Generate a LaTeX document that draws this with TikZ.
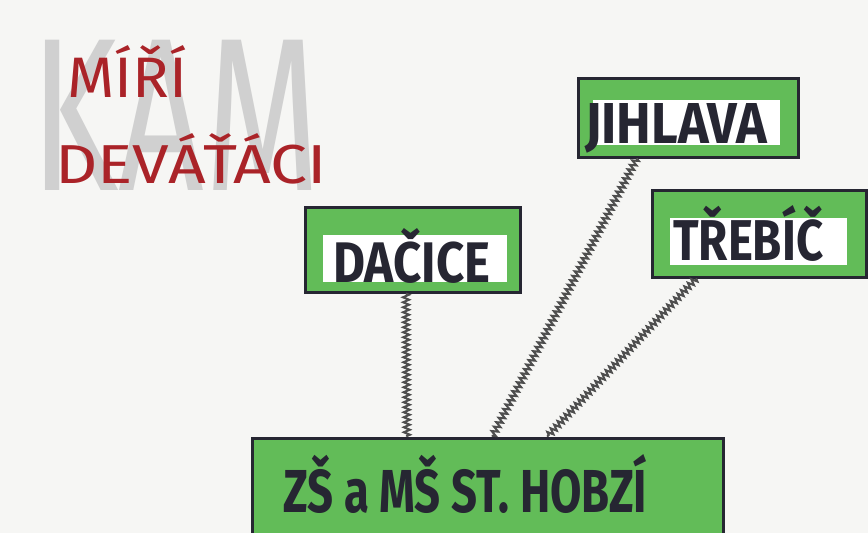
\documentclass[tikz,border=0pt]{standalone}
\usepackage{fontspec}
\usepackage{graphicx}
\setmainfont{Fira Sans}
\usetikzlibrary{decorations.pathmorphing,calc}
\definecolor{paper}{RGB}{246,246,244}
\definecolor{marker}{RGB}{98,188,88}
\definecolor{ink}{RGB}{38,38,50}
\definecolor{redink}{RGB}{170,35,40}
\definecolor{pencil}{RGB}{78,78,78}
\definecolor{ghost}{RGB}{208,208,208}
\begin{document}
\begin{tikzpicture}[x=1pt,y=-1pt,
  sign/.style={draw=ink,line width=3pt,fill=marker,rectangle,inner sep=0pt},
  plate/.style={fill=white,rectangle,inner sep=0pt},
  lbl/.style={anchor=base west,inner sep=0pt,text=ink,font=\bfseries},
  link/.style={preaction={draw=pencil,line width=2pt},draw=pencil,line width=1.2pt,decorate,decoration={zigzag,segment length=5pt,amplitude=3pt}}]
\clip (0,0) rectangle (868,533);
\fill[paper] (0,0) rectangle (868,533);
% ghost title
\node[anchor=base west,inner sep=0pt,text=ghost] (kam) at (30,190) {\resizebox{290pt}{150pt}{KAM}};
\node[anchor=base west,inner sep=0pt,text=redink] (miri) at (67,97) {\resizebox{120pt}{52pt}{MÍŘÍ}};
\node[anchor=base west,inner sep=0pt,text=redink] (devataci) at (55,183) {\resizebox{272pt}{50pt}{DEVÁŤÁCI}};
% signs
\node[sign,minimum width=215pt,minimum height=85pt] (dacice) at (412.5,249.5) {};
\node[plate,minimum width=184pt,minimum height=47pt] (dacicep) at (415,258.5) {};
\node[lbl] (dacicet) at (333,282) {\resizebox{157pt}{54pt}{DAČICE}};
\node[sign,minimum width=220pt,minimum height=79pt] (jihlava) at (688,117.5) {};
\node[plate,minimum width=187pt,minimum height=45pt] (jihlavap) at (686.5,122.5) {};
\node[lbl] (jihlavat) at (585,143) {\resizebox{182pt}{40pt}{JIHLAVA}};
\node[sign,minimum width=214pt,minimum height=87pt] (trebic) at (759,233.5) {};
\node[plate,minimum width=177pt,minimum height=47pt] (trebicp) at (758.5,241.5) {};
\node[lbl] (trebict) at (673,260) {\resizebox{150pt}{55pt}{TŘEBÍČ}};
\node[sign,minimum width=471pt,minimum height=122pt] (school) at (487.5,499) {};
\node[lbl] (schoolt) at (283,512) {\resizebox{364pt}{58pt}{ZŠ a MŠ ST. HOBZÍ}};
% connectors
\coordinate (d1) at ($(dacice.south west)!0.47!(dacice.south east)$);
\coordinate (d2) at ($(school.north west)!0.33!(school.north east)$);
\coordinate (j1) at ($(jihlava.south west)!0.27!(jihlava.south east)$);
\coordinate (j2) at ($(school.north west)!0.51!(school.north east)$);
\coordinate (t1) at ($(trebic.south west)!0.21!(trebic.south east)$);
\coordinate (t2) at ($(school.north west)!0.626!(school.north east)$);
\draw[link] (d1) -- (d2);
\draw[link] (j1) -- (j2);
\draw[link] (t1) -- (t2);
\end{tikzpicture}
\end{document}
